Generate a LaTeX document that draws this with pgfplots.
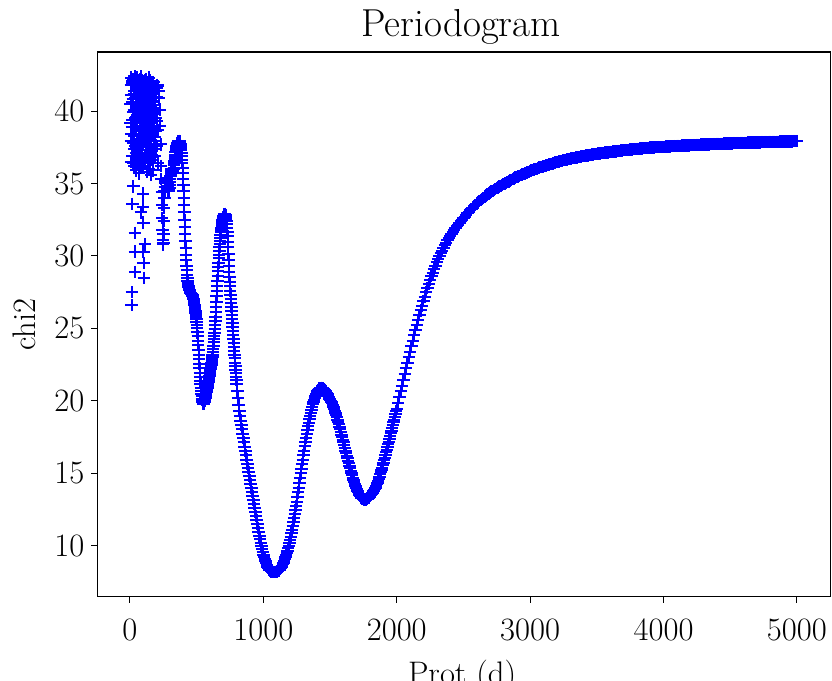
\documentclass[border=0pt]{standalone}
\usepackage{fontspec}
\setmainfont{Latin Modern Roman}
\usepackage{pgfplots}
\pgfplotsset{compat=1.18}

\definecolor{mplblue}{RGB}{0,0,255}
\pgfplotsset{chimarks/.style={only marks, mark=+, mark size=3.1pt,
  color=mplblue, mark options={line width=1pt}}}

\begin{document}
\begin{tikzpicture}
\begin{axis}[
  name=ax,
  scale only axis,
  width=366.75pt, height=272.35pt,
  xmin=-245, xmax=5254, ymin=6.5, ymax=44.07,
  xtick={0,1000,2000,3000,4000,5000},
  ytick={10,15,20,25,30,35,40},
  tick align=outside, tick pos=left,
  major tick length=3pt,
  every tick/.style={black, line width=0.5pt},
  axis line style={black, line width=0.6pt},
  ticklabel style={font=\fontsize{16.3}{19}\selectfont},
  /pgf/number format/assume math mode=true,
  scaled ticks=false,
  xticklabel style={/pgf/number format/1000 sep={}, yshift=-4.5pt},
  clip=false,
]
% short periods: scattered values
\addplot[chimarks] table {
x y
5 40.5
7 37.9
9 41.1
11 38.4
15 41.9
17 36.9
19 39.4
21 40.8
23 36.4
25 42.2
27 38.9
29 40.1
31 37.4
33 41.4
35 39.2
39 37.6
41 42.0
43 38.7
45 40.3
47 36.7
49 41.8
51 38.0
53 40.6
55 36.3
57 39.7
59 41.2
61 37.8
63 40.0
65 42.1
67 38.3
69 36.6
71 41.0
73 39.2
75 37.0
77 42.2
79 39.6
81 38.4
83 40.9
85 36.4
87 42.0
89 37.7
91 39.9
93 41.3
95 38.6
97 36.2
105 39.5
107 41.5
109 37.9
111 40.2
113 38.3
115 42.1
117 36.8
119 40.7
121 38.0
123 41.6
125 37.1
127 39.8
129 42.0
131 38.4
133 40.5
135 36.9
137 41.2
139 39.0
141 37.6
143 40.8
145 38.2
147 42.1
149 36.5
151 39.4
153 41.0
155 37.3
157 40.0
159 38.6
161 42.0
163 37.0
165 39.2
167 41.3
169 36.8
171 38.9
173 40.4
175 42.0
177 37.9
179 39.8
184 38.2
188 36.9
192 38.6
196 37.4
200 39.3
204 37.6
208 38.7
212 36.4
};
\addplot[chimarks] table {
x y
4 39.2
6 41.8
8 36.5
10 42.3
12 26.6
13 27.5
14 38.9
16 40.6
18 33.6
20 42.1
22 37.8
24 39.9
26 34.8
28 41.2
30 38.3
32 36.2
34 42.4
36 31.6
37 30.3
38 28.9
40 39.5
42 40.9
44 37.1
46 42.2
48 35.9
50 41.5
52 39.0
54 37.6
56 42.3
58 40.2
60 36.8
62 41.7
64 38.6
66 35.7
68 42.0
70 39.8
72 37.3
74 41.1
76 40.4
78 36.1
80 42.4
82 33.0
84 38.1
86 41.6
88 39.4
90 36.9
92 42.1
94 40.0
96 37.8
98 34.3
99 33.4
100 32.3
101 30.3
102 29.5
103 28.5
104 40.8
106 38.9
108 42.0
110 36.4
112 30.8
114 41.3
116 39.6
118 37.0
120 42.2
122 40.5
124 38.2
126 35.8
128 41.0
130 39.1
132 36.7
134 41.9
136 40.1
138 37.5
140 42.3
142 38.8
144 36.0
146 41.4
148 39.7
150 37.2
152 41.8
154 40.3
156 38.0
158 35.6
160 41.2
162 39.3
164 36.6
166 40.7
168 38.5
170 41.5
172 39.9
174 37.4
176 35.9
178 40.6
180 38.7
182 41.3
186 40.2
190 41.7
194 39.5
198 41.0
202 41.6
206 41.8
210 41.7
214 41.4
218 40.9
222 40.1
226 39.0
230 37.7
234 36.2
236 35.3
238 34.4
240 33.5
242 32.6
244 31.8
246 31.1
248 30.8
250 30.9
252 31.5
254 32.4
256 33.3
258 34.0
260 34.5
262 34.78
264 35.0
266 35.17
268 35.3
270 35.37
272 35.4
274 35.37
276 35.3
278 35.17
280 35.0
282 34.85
284 34.7
286 34.6
288 34.5
290 34.48
292 34.5
294 34.58
296 34.7
298 34.88
300 35.1
302 35.3
304 35.5
306 35.67
308 35.8
310 35.92
312 36.0
314 36.02
316 36.0
318 35.95
320 35.9
322 35.88
324 35.9
326 35.98
328 36.1
330 36.25
332 36.4
334 36.55
336 36.7
338 36.85
340 37.0
342 37.15
344 37.3
346 37.4
348 37.5
350 37.58
352 37.65
354 37.73
356 37.8
358 37.85
360 37.88
362 37.9
364 37.92
366 37.93
368 37.93
370 37.92
372 37.9
374 37.86
376 37.8
378 37.7
380 37.6
382 37.45
384 37.3
386 37.1
388 36.9
390 36.65
392 36.4
394 36.05
396 35.7
398 35.3
400 34.9
402 34.45
404 34.0
406 33.5
408 33.0
410 32.5
412 32.0
414 31.5
416 31.0
418 30.55
420 30.1
422 29.7
424 29.3
426 29.0
428 28.7
430 28.47
432 28.25
434 28.12
436 28.0
438 27.92
440 27.85
442 27.8
444 27.75
446 27.68
448 27.62
450 27.57
452 27.52
454 27.48
456 27.45
458 27.42
460 27.4
462 27.37
464 27.35
466 27.32
468 27.3
470 27.25
472 27.2
474 27.13
476 27.05
478 26.95
480 26.85
482 26.73
484 26.6
486 26.48
488 26.35
490 26.23
492 26.1
494 25.95
496 25.8
498 25.63
500 25.45
502 25.23
504 25.0
506 24.73
508 24.45
510 24.15
512 23.85
514 23.53
516 23.2
518 22.88
520 22.55
522 22.25
524 21.95
526 21.68
528 21.4
530 21.15
532 20.9
534 20.7
536 20.5
538 20.32
540 20.15
542 20.05
544 19.95
546 19.88
548 19.82
550 19.8
552 19.8
554 19.82
556 19.85
558 19.92
560 20.0
562 20.07
564 20.15
566 20.23
568 20.32
570 20.41
572 20.5
574 20.6
576 20.7
578 20.8
580 20.9
582 21.0
584 21.1
586 21.2
588 21.3
590 21.4
592 21.5
594 21.61
596 21.72
598 21.83
600 21.95
602 22.06
604 22.18
606 22.29
608 22.4
610 22.51
612 22.62
614 22.75
616 22.88
618 23.03
620 23.2
622 23.4
624 23.6
626 23.82
628 24.05
630 24.27
632 24.5
634 24.72
636 24.95
638 25.22
640 25.5
642 25.82
644 26.15
646 26.5
648 26.85
650 27.22
652 27.6
654 27.95
656 28.3
658 28.63
660 28.95
662 29.25
664 29.55
666 29.83
668 30.1
670 30.35
672 30.6
674 30.83
676 31.05
678 31.25
680 31.45
682 31.63
684 31.8
686 31.95
688 32.1
690 32.23
692 32.35
694 32.45
696 32.55
698 32.63
700 32.7
702 32.75
704 32.8
706 32.84
708 32.87
710 32.89
712 32.9
714 32.88
716 32.85
718 32.78
720 32.7
722 32.56
724 32.4
726 32.18
728 31.95
730 31.65
732 31.35
734 30.98
736 30.6
738 30.15
740 29.7
742 29.3
744 28.9
746 28.55
748 28.2
750 27.9
752 27.6
754 27.33
756 27.05
758 26.78
760 26.5
762 26.23
764 25.95
766 25.68
768 25.4
770 25.13
772 24.85
774 24.58
776 24.3
778 24.03
780 23.75
782 23.48
784 23.2
786 22.93
788 22.65
790 22.4
792 22.15
794 21.9
796 21.65
798 21.43
800 21.2
805 20.7
810 20.2
815 19.75
820 19.3
825 18.97
830 18.65
835 18.35
840 18.05
845 17.75
850 17.45
855 17.15
860 16.85
865 16.55
870 16.25
875 15.96
880 15.67
885 15.38
890 15.1
895 14.82
900 14.55
905 14.27
910 14.0
915 13.72
920 13.45
925 13.17
930 12.9
935 12.62
940 12.35
945 12.07
950 11.8
955 11.52
960 11.25
965 10.98
970 10.72
975 10.47
980 10.22
985 10.0
990 9.78
995 9.58
1000 9.4
1005 9.24
1010 9.08
1015 8.94
1020 8.8
1025 8.69
1030 8.58
1035 8.5
1040 8.42
1045 8.36
1050 8.31
1055 8.28
1060 8.25
1065 8.23
1070 8.22
1075 8.21
1080 8.21
1085 8.21
1090 8.21
1095 8.22
1100 8.23
1105 8.25
1110 8.27
1115 8.31
1120 8.35
1125 8.41
1130 8.47
1135 8.55
1140 8.63
1145 8.73
1150 8.83
1155 8.95
1160 9.07
1165 9.21
1170 9.35
1175 9.51
1180 9.67
1185 9.85
1190 10.03
1195 10.23
1200 10.43
1205 10.65
1210 10.88
1215 11.12
1220 11.37
1225 11.63
1230 11.9
1235 12.18
1240 12.46
1245 12.75
1250 13.04
1255 13.37
1260 13.7
1265 14.02
1270 14.35
1275 14.67
1280 15.0
1285 15.32
1290 15.64
1295 15.95
1300 16.27
1305 16.57
1310 16.88
1315 17.17
1320 17.46
1325 17.73
1330 18.0
1335 18.25
1340 18.5
1345 18.73
1350 18.96
1355 19.17
1360 19.38
1365 19.57
1370 19.76
1375 19.93
1380 20.09
1385 20.23
1390 20.37
1395 20.48
1400 20.59
1405 20.67
1410 20.75
1415 20.8
1420 20.85
1425 20.88
1430 20.9
1435 20.9
1440 20.89
1445 20.87
1450 20.84
1455 20.81
1460 20.77
1465 20.71
1470 20.64
1475 20.56
1480 20.47
1485 20.37
1490 20.27
1495 20.16
1500 20.05
1505 19.99
1510 19.92
1515 19.84
1520 19.74
1525 19.61
1530 19.47
1535 19.33
1540 19.18
1545 19.03
1550 18.87
1555 18.71
1560 18.55
1565 18.38
1570 18.21
1575 18.04
1580 17.86
1585 17.68
1590 17.5
1595 17.32
1600 17.14
1605 16.95
1610 16.77
1615 16.58
1620 16.4
1625 16.22
1630 16.04
1635 15.86
1640 15.69
1645 15.52
1650 15.35
1655 15.18
1660 15.02
1665 14.86
1670 14.71
1675 14.56
1680 14.42
1685 14.28
1690 14.15
1695 14.03
1700 13.91
1705 13.8
1710 13.7
1715 13.61
1720 13.52
1725 13.45
1730 13.38
1735 13.33
1740 13.28
1745 13.25
1750 13.22
1755 13.21
1760 13.2
1765 13.2
1770 13.21
1775 13.23
1780 13.26
1785 13.3
1790 13.34
1795 13.4
1800 13.46
1805 13.5
1810 13.55
1815 13.61
1820 13.68
1825 13.76
1830 13.84
1835 13.93
1840 14.03
1845 14.14
1850 14.25
1855 14.37
1860 14.5
1865 14.64
1870 14.78
1875 14.93
1880 15.08
1885 15.24
1890 15.4
1895 15.57
1900 15.74
1905 15.91
1910 16.09
1915 16.27
1920 16.45
1925 16.63
1930 16.82
1935 17.01
1940 17.2
1945 17.39
1950 17.58
1955 17.77
1960 17.96
1965 18.15
1970 18.34
1975 18.53
1980 18.72
1985 18.91
1990 19.1
1995 19.29
2000 19.48
2010 19.88
2020 20.27
2030 20.67
2040 21.06
2050 21.46
2060 21.85
2070 22.24
2080 22.63
2090 23.02
2100 23.4
2110 23.78
2120 24.15
2130 24.52
2140 24.88
2150 25.23
2160 25.58
2170 25.92
2180 26.25
2190 26.58
2200 26.9
2210 27.2
2220 27.5
2230 27.79
2240 28.07
2250 28.34
2260 28.6
2270 28.85
2280 29.1
2290 29.33
2300 29.56
2310 29.77
2320 29.98
2330 30.18
2340 30.37
2350 30.55
2360 30.73
2370 30.9
2380 31.07
2390 31.23
2400 31.38
2410 31.52
2420 31.66
2430 31.79
2440 31.92
2450 32.04
2460 32.16
2470 32.28
2480 32.39
2490 32.5
2500 32.61
2510 32.72
2520 32.83
2530 32.94
2540 33.04
2550 33.14
2560 33.24
2570 33.34
2580 33.43
2590 33.52
2600 33.61
2610 33.7
2620 33.78
2630 33.86
2640 33.94
2650 34.02
2660 34.09
2670 34.16
2680 34.23
2690 34.3
2700 34.37
2710 34.44
2720 34.5
2730 34.56
2740 34.62
2750 34.68
2760 34.73
2770 34.79
2780 34.84
2790 34.9
2800 34.95
2810 35.0
2820 35.05
2830 35.1
2840 35.15
2850 35.2
2860 35.25
2870 35.3
2880 35.35
2890 35.4
2900 35.45
2910 35.49
2920 35.53
2930 35.57
2940 35.61
2950 35.65
2960 35.69
2970 35.73
2980 35.77
2990 35.81
3000 35.85
3010 35.89
3020 35.92
3030 35.96
3040 35.99
3050 36.02
3060 36.05
3070 36.09
3080 36.12
3090 36.15
3100 36.18
3110 36.21
3120 36.24
3130 36.27
3140 36.3
3150 36.33
3160 36.36
3170 36.39
3180 36.42
3190 36.45
3200 36.47
3210 36.5
3220 36.52
3230 36.55
3240 36.57
3250 36.6
3260 36.62
3270 36.64
3280 36.66
3290 36.68
3300 36.7
3310 36.72
3320 36.74
3330 36.76
3340 36.78
3350 36.8
3360 36.82
3370 36.84
3380 36.86
3390 36.88
3400 36.9
3410 36.91
3420 36.93
3430 36.94
3440 36.96
3450 36.97
3460 36.99
3470 37.0
3480 37.02
3490 37.03
3500 37.05
3510 37.06
3520 37.08
3530 37.09
3540 37.1
3550 37.11
3560 37.13
3570 37.14
3580 37.15
3590 37.16
3600 37.18
3610 37.19
3620 37.2
3630 37.21
3640 37.22
3650 37.23
3660 37.25
3670 37.26
3680 37.27
3690 37.28
3700 37.29
3710 37.3
3720 37.31
3730 37.32
3740 37.33
3750 37.34
3760 37.35
3770 37.36
3780 37.37
3790 37.38
3800 37.39
3810 37.4
3820 37.41
3830 37.41
3840 37.42
3850 37.43
3860 37.44
3870 37.45
3880 37.46
3890 37.46
3900 37.47
3910 37.47
3920 37.48
3930 37.49
3940 37.5
3950 37.5
3960 37.51
3970 37.51
3980 37.52
3990 37.52
4000 37.53
4010 37.53
4020 37.54
4030 37.55
4040 37.56
4050 37.56
4060 37.57
4070 37.57
4080 37.58
4090 37.58
4100 37.59
4110 37.59
4120 37.6
4130 37.6
4140 37.61
4150 37.61
4160 37.62
4170 37.62
4180 37.63
4190 37.63
4200 37.64
4210 37.64
4220 37.65
4230 37.65
4240 37.66
4250 37.66
4260 37.67
4270 37.67
4280 37.68
4290 37.68
4300 37.69
4310 37.69
4320 37.7
4330 37.7
4340 37.7
4350 37.71
4360 37.71
4370 37.72
4380 37.72
4390 37.73
4400 37.73
4410 37.73
4420 37.74
4430 37.74
4440 37.74
4450 37.75
4460 37.75
4470 37.76
4480 37.76
4490 37.77
4500 37.77
4510 37.77
4520 37.78
4530 37.78
4540 37.78
4550 37.79
4560 37.79
4570 37.8
4580 37.8
4590 37.8
4600 37.8
4610 37.81
4620 37.81
4630 37.82
4640 37.82
4650 37.82
4660 37.82
4670 37.83
4680 37.83
4690 37.84
4700 37.84
4710 37.84
4720 37.84
4730 37.85
4740 37.85
4750 37.85
4760 37.85
4770 37.86
4780 37.86
4790 37.87
4800 37.87
4810 37.87
4820 37.87
4830 37.88
4840 37.88
4850 37.88
4860 37.88
4870 37.89
4880 37.89
4890 37.9
4900 37.9
4910 37.9
4920 37.9
4930 37.91
4940 37.91
4950 37.91
4960 37.91
4970 37.92
4980 37.92
4990 37.92
5000 37.93
};
\end{axis}

% title and axis labels
\node[anchor=base, font=\fontsize{19.5}{23}\selectfont]
  at ([xshift=-1.5pt, yshift=7.5pt]ax.north) {Periodogram};
\node[anchor=north, inner sep=0pt, font=\fontsize{16.3}{19}\selectfont]
  at ([xshift=-1pt, yshift=-31.6pt]ax.south) {Prot (d)};
\node[rotate=90, anchor=center, inner sep=0pt, font=\fontsize{16.3}{19}\selectfont]
  at ([xshift=-36.4pt]ax.west) {chi2};

\pgfresetboundingbox
\useasboundingbox ([xshift=-48.65pt, yshift=-42.15pt]ax.south west)
  rectangle ([xshift=0.6pt, yshift=26pt]ax.north east);
\end{tikzpicture}
\end{document}
